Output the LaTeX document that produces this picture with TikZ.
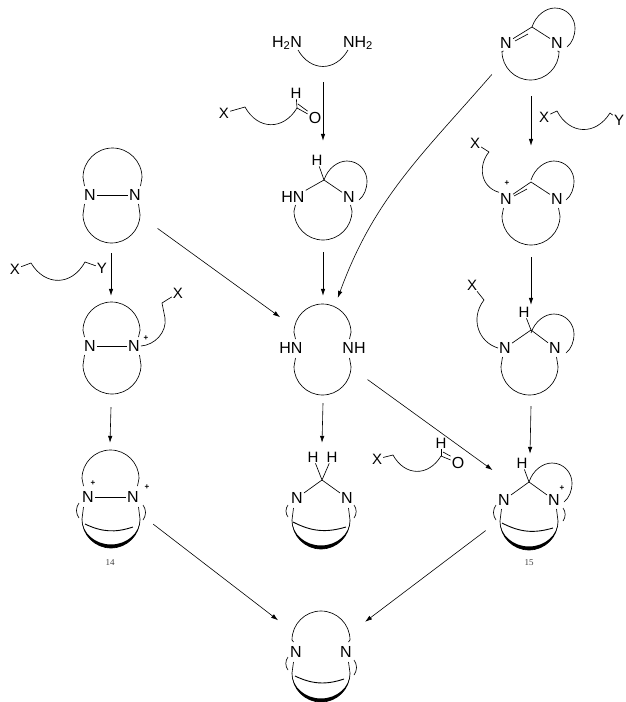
\documentclass[tikz,border=0pt]{standalone}
\usepackage{fontspec}
\setmainfont{Liberation Sans}
\newfontfamily\tagfont{Liberation Serif}
\usetikzlibrary{arrows.meta}
\newcommand{\ringarc}[4]{\pgfmathsetmacro\ringsign{#3>#4?1:-1}\pgfmathsetmacro\ringbase{#4+\ringsign*(#2-#1)/2}\pgfmathsetmacro\ringmid{(#1+#2)/2}\pgfmathsetmacro\ringhalf{(#2-#1)/2}%
\draw[Ring] ({#1+1.5},#3) -- (#1,\ringbase) .. controls (#1,{\ringbase+0.55*(#4-\ringbase)}) and ({\ringmid-0.55*\ringhalf},#4) .. (\ringmid,#4) .. controls ({\ringmid+0.55*\ringhalf},#4) and (#2,{\ringbase+0.55*(#4-\ringbase)}) .. (#2,\ringbase) -- ({#2-1.5},#3);}
\newcommand{\boatarc}[4]{\ringarc{#1}{#2}{#3}{#4}%
\fill[black] (#1,\ringbase) .. controls (#1,{\ringbase+0.55*(#4-\ringbase)}) and ({\ringmid-0.55*\ringhalf},#4) .. (\ringmid,#4) .. controls ({\ringmid+0.55*\ringhalf},#4) and (#2,{\ringbase+0.55*(#4-\ringbase)}) .. (#2,\ringbase) .. controls (#2,{\ringbase+0.55*(#4-3.5-\ringbase)}) and ({\ringmid+0.55*\ringhalf},{#4-3.5}) .. (\ringmid,{#4-3.5}) .. controls ({\ringmid-0.55*\ringhalf},{#4-3.5}) and (#1,{\ringbase+0.55*(#4-3.5-\ringbase)}) .. (#1,\ringbase) -- cycle;}
\newcommand{\sidering}[2]{\draw[Ring] (#1,#2) .. controls ({#1+4},{#2-12}) and ({#1+14},{#2-19}) .. ({#1+23},{#2-19}) .. controls ({#1+35},{#2-19}) and ({#1+43},{#2-9}) .. ({#1+43},{#2+1}) .. controls ({#1+43},{#2+9}) and ({#1+40},{#2+16}) .. ({#1+35},{#2+20});}
\begin{document}
\begin{tikzpicture}[x = 1pt, y = -1pt]
\tikzstyle{Ring}=[line width = 0.65 pt]
\tikzstyle{Chain}=[bend right = 60, looseness = 1.3]
\tikzstyle{Atom}=[inner sep = 1 pt, font = \fontsize{16}{16}\selectfont]
\tikzstyle{Small}=[inner sep = 1 pt, font = \fontsize{15}{15}\selectfont]
\tikzstyle{Charge}=[inner sep = 0 pt, font = \fontsize{8}{8}\selectfont\bfseries]
\tikzstyle{Tag}=[inner sep = 0 pt, text = black!75, font = \fontsize{9}{9}\selectfont\tagfont]
\tikzstyle{Mol}=[shape = circle, inner sep = 0 pt, draw = none]
\tikzstyle{Rxn}=[-{Latex[length=7pt,width=4.5pt]}, line width = 0.6 pt]
\useasboundingbox (0,0) rectangle (626,702);
\node[Mol, minimum size = 112 pt] (azo) at (111,197) {};
\node[Mol, minimum size = 111 pt] (azoq) at (111,351.5) {};
\node[Mol, minimum size = 104 pt] (mfourteen) at (110,495) {};
\node[Mol, minimum size = 76 pt] (diamine) at (323,44) {};
\node[Mol, minimum size = 111 pt] (amtop) at (323,196.5) {};
\node[Mol, minimum size = 107 pt] (diaza) at (323,349.5) {};
\node[Mol, minimum size = 106 pt] (methyl) at (322,496) {};
\node[Mol, minimum size = 110 pt] (final) at (321,655) {};
\node[Mol, minimum size = 92 pt] (imine) at (531,50) {};
\node[Mol, minimum size = 111 pt] (iminq) at (531,201.5) {};
\node[Mol, minimum size = 101 pt] (amright) at (531,355.5) {};
\node[Mol, minimum size = 102 pt] (mfifteen) at (530,505) {};
\node[Atom] (azoa) at (90,195) {N};
\node[Atom] (azob) at (135,195) {N};
\ringarc{83}{142}{186}{148}
\ringarc{83}{140}{204}{243}
\draw[Ring] (azoa) -- (azob);
\node[Small] (xa) at (15,269) {X};
\node[Small] (ya) at (102,268) {Y};
\draw[Ring] (xa) -- (31,263) to[Chain] (85,262) -- (ya);
\node[Atom] (azoqa) at (90,346) {N};
\node[Atom] (azoqb) at (134,346) {N};
\node[Charge] (plusa) at (146,338) {+};
\node[Small] (xb) at (178,293) {X};
\ringarc{83}{140}{337}{302}
\ringarc{83}{141}{355}{394}
\draw[Ring] (azoqa) -- (azoqb);
\draw[Ring] (azoqb.east) .. controls (155,345) and (167,332) .. (165,318) -- (162,303) -- (xb);
\node[Atom] (mfa) at (88,497) {N};
\node[Atom] (mfb) at (133,497) {N};
\node[Charge] (plusb) at (93,483) {+};
\node[Charge] (plusc) at (147,487) {+};
\ringarc{82}{139}{486}{450}
\draw[Ring] (mfa) -- (mfb);
\boatarc{82}{140}{507}{548}
\draw[Ring, line width = 0.9 pt] (85,524) to[bend right = 22] (133,527);
\draw[Ring] (79,503) to[bend right = 35] (79,518);
\draw[Ring] (143,505) to[bend left = 35] (143,520);
\node[Tag] (tagfourteen) at (110,563) {14};
\node[Atom] (hna) at (287,43) {H\textsubscript{2}N};
\node[Atom] (hnb) at (358,43) {NH\textsubscript{2}};
\draw[Ring] (298,50) to[Chain] (348,50);
\node[Small] (xc) at (224,113) {X};
\node[Small] (hc) at (296,93) {H};
\node[Atom] (oc) at (315,118) {O};
\coordinate (cc) at (297,108);
\draw[Ring] (xc) -- (245,107) to[Chain] (cc);
\draw[Ring] (hc) -- (cc);
\draw[Ring] (cc) -- (oc);
\draw[Ring] (298,104) -- (oc.north west);
\coordinate (cam) at (324,180);
\node[Small] (ham) at (317,160) {H};
\node[Atom] (hnam) at (293,197) {HN};
\node[Atom] (nam) at (349,197) {N};
\draw[Ring] (ham) -- (cam);
\draw[Ring] (hnam.north east) -- (cam) -- (nam);
\sidering{324}{180}
\ringarc{294}{352}{205}{240}
\node[Atom] (hnd) at (291,348) {HN};
\node[Atom] (nhd) at (354,348) {NH};
\ringarc{294}{351}{339}{304}
\ringarc{294}{351}{358}{395}
\coordinate (cm) at (322,480);
\node[Small] (hma) at (313,457) {H};
\node[Small] (hmb) at (332,457) {H};
\node[Atom] (nma) at (297,498) {N};
\node[Atom] (nmb) at (347,498) {N};
\draw[Ring] (hma) -- (cm) -- (hmb);
\draw[Ring] (nma) -- (cm) -- (nmb);
\boatarc{292}{350}{508}{549}
\draw[Ring, line width = 0.9 pt] (293,522) to[bend right = 22] (346,527);
\draw[Ring] (288,505) to[bend right = 35] (288,517);
\draw[Ring] (354,505) to[bend left = 35] (354,518);
\node[Small] (xe) at (377,459) {X};
\node[Small] (he) at (441,443) {H};
\node[Atom] (oe) at (458,463) {O};
\coordinate (ce) at (441,456);
\draw[Ring] (xe) -- (393,455) to[Chain] (ce);
\draw[Ring] (he) -- (ce);
\draw[Ring] (ce) -- (oe);
\draw[Ring] (443,452) -- (oe.north west);
\node[Atom] (nfa) at (296,652) {N};
\node[Atom] (nfb) at (346,652) {N};
\ringarc{292}{350}{642}{611}
\boatarc{292}{350}{662}{702}
\draw[Ring, line width = 0.9 pt] (295,676) to[bend right = 22] (344,679);
\draw[Ring] (288,657) to[bend right = 35] (288,670);
\draw[Ring] (354,660) to[bend left = 35] (354,675);
\coordinate (cim) at (532,27);
\node[Atom] (nia) at (506,43) {N};
\node[Atom] (nib) at (557,43) {N};
\draw[Ring] (cim) -- (nib);
\draw[Ring] (cim) -- (nia);
\draw[Ring] (528,34) -- (515,41);
\sidering{532}{27}
\ringarc{502}{559}{51}{80}
\node[Small] (xg) at (544,117) {X};
\node[Small] (yg) at (619,120) {Y};
\draw[Ring] (xg) -- (557,111) to[Chain] (610,113) -- (yg);
\coordinate (ciq) at (531,182);
\node[Atom] (nqa) at (506,199) {N};
\node[Atom] (nqb) at (557,199) {N};
\node[Charge] (plusd) at (507,183) {+};
\node[Small] (xh) at (475,143) {X};
\draw[Ring] (ciq) -- (nqb);
\draw[Ring] (ciq) -- (nqa);
\draw[Ring] (527,189) -- (514,196);
\sidering{531}{180}
\ringarc{502}{560}{208}{245}
\draw[Ring] (xh) -- (489,152) .. controls (478,165) and (480,187) .. (nqa.north west);
\coordinate (car) at (531,330);
\node[Small] (har) at (524,312) {H};
\node[Atom] (nra) at (505,348) {N};
\node[Atom] (nrb) at (555,348) {N};
\node[Small] (xi) at (472,285) {X};
\draw[Ring] (har) -- (car);
\draw[Ring] (nra) -- (car) -- (nrb);
\sidering{531}{333}
\ringarc{501}{558}{357}{395}
\draw[Ring] (xi) -- (484,300) .. controls (470,318) and (478,342) .. (nra.west);
\coordinate (cft) at (529,482);
\node[Small] (hft) at (522,463) {H};
\node[Atom] (nfta) at (504,500) {N};
\node[Atom] (nftb) at (554,500) {N};
\node[Charge] (pluse) at (562,488) {+};
\draw[Ring] (hft) -- (cft);
\draw[Ring] (nfta) -- (cft) -- (nftb);
\sidering{529}{482}
\boatarc{500}{558}{509}{550}
\draw[Ring, line width = 0.9 pt] (502,523) to[bend right = 22] (553,528);
\draw[Ring] (496,505) to[bend right = 35] (496,520);
\draw[Ring] (563,508) to[bend left = 35] (563,521);
\node[Tag] (tagfifteen) at (529,563) {15};
\draw[Rxn] (azo.south) -- (azoq.north);
\draw[Rxn] (azoq.south) -- (mfourteen.north);
\draw[Rxn] (azo.-34) -- (diaza.143);
\draw[Rxn] (diamine.south) -- (amtop.north);
\draw[Rxn] (amtop.south) -- (diaza.north);
\draw[Rxn] (imine.212) to[out = 229, in = 70] (diaza.74);
\draw[Rxn] (imine.south) -- (iminq.north);
\draw[Rxn] (iminq.south) -- (amright.north);
\draw[Rxn] (amright.south) -- (mfifteen.north);
\draw[Rxn] (diaza.south) -- (methyl.north);
\draw[Rxn] (diaza.-34) -- (mfifteen.137);
\draw[Rxn] (mfourteen.-34) -- (final.141);
\draw[Rxn] (mfifteen.210) -- (final.37);
\end{tikzpicture}
\end{document}
